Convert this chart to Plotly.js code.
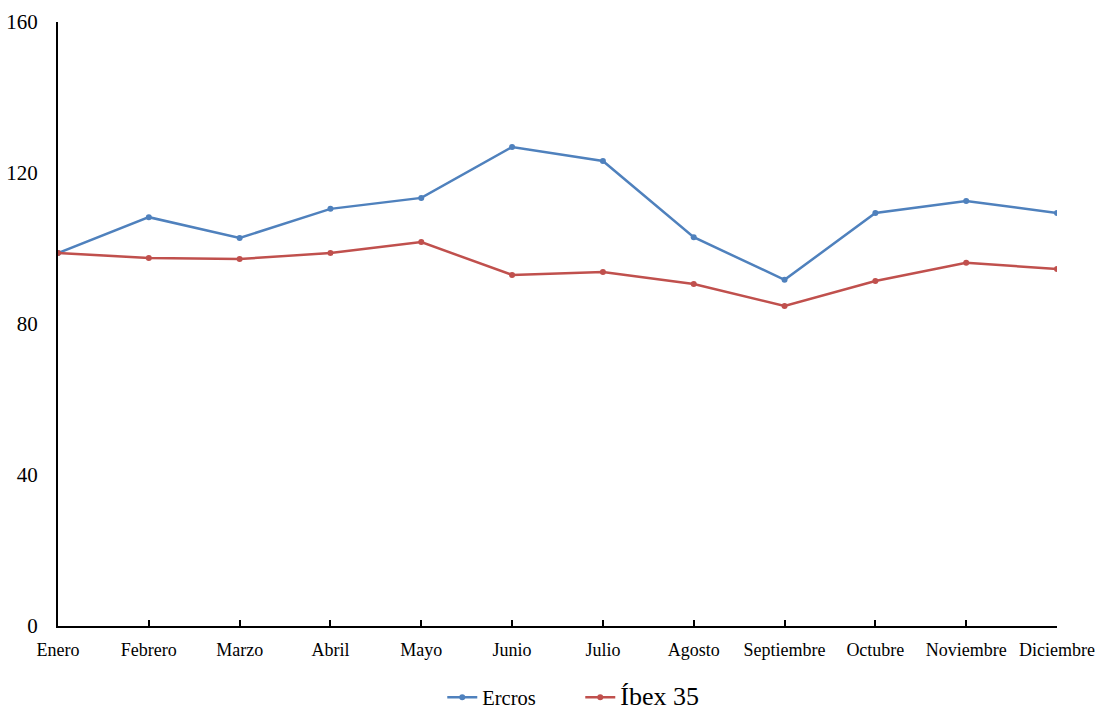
<!DOCTYPE html>
<html>
<head>
<meta charset="utf-8">
<script src="https://cdn.plot.ly/plotly-3.0.1.min.js"></script>
<style>html,body{margin:0;padding:0;background:#fff;}#chart{width:1099px;height:713px;}</style>
</head>
<body>
<div id="chart"></div>
<script>
const months = ["Enero","Febrero","Marzo","Abril","Mayo","Junio","Julio","Agosto","Septiembre","Octubre","Noviembre","Diciembre"];
const ercros = [98.8,108.3,102.8,110.5,113.4,126.9,123.2,103.0,91.7,109.4,112.6,109.4];
const ibex = [98.8,97.5,97.2,98.8,101.7,93.0,93.8,90.6,84.8,91.4,96.2,94.6];
const yTicks = [0,40,80,120,160];

const traces = [
  {x: months, y: ercros, name: "Ercros", type: "scatter", mode: "lines+markers",
   line: {color: "#4F81BD", width: 2.5}, marker: {color: "#4F81BD", size: 6}},
  {x: months, y: ibex, name: '<span style="font-size:26px">Íbex 35</span>', type: "scatter", mode: "lines+markers",
   line: {color: "#C0504D", width: 2.5}, marker: {color: "#C0504D", size: 6}}
];

const layout = {
  width: 1099, height: 713,
  margin: {l: 58, r: 42, t: 22, b: 87, autoexpand: false},
  paper_bgcolor: "#fff", plot_bgcolor: "#fff",
  font: {family: "Liberation Serif, Times New Roman, serif", color: "#000"},
  showlegend: true,
  legend: {orientation: "h", xref: "container", yref: "container", x: 0.528, xanchor: "center", y: 0.022, yanchor: "middle",
           font: {size: 20.5, family: "Liberation Serif"}, entrywidth: 93, entrywidthmode: "pixels", tracegroupgap: 0},
  xaxis: {type: "category", range: [0, 11], showgrid: false, zeroline: false,
          showline: true, linecolor: "#000", linewidth: 2,
          ticks: "inside", ticklen: 6, tickcolor: "#000", tickwidth: 2, ticklabelstandoff: 6,
          tickfont: {size: 18, family: "Liberation Serif"}, automargin: false},
  yaxis: {range: [0, 160], tickvals: yTicks, showgrid: false, zeroline: false,
          showline: true, linecolor: "#000", linewidth: 2, ticks: "", ticklabelstandoff: 14,
          tickfont: {size: 21, family: "Liberation Serif"}, automargin: false}
};

Plotly.newPlot("chart", traces, layout, {displayModeBar: false, staticPlot: true});
</script>
</body>
</html>
